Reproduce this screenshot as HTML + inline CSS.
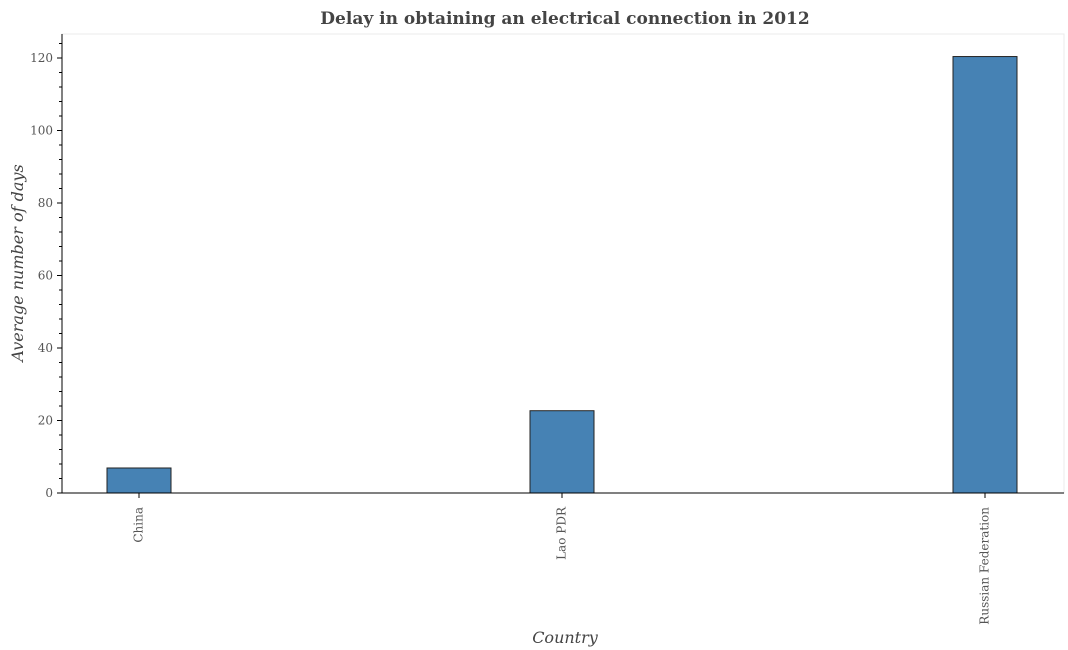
<!DOCTYPE html>
<html><head><meta charset="utf-8"><style>body{margin:0;background:#fff}svg{display:block;font-family:"DejaVu Serif","Liberation Serif",serif}</style></head>
<body>
<svg id="c" width="1068" height="650"></svg>
<script>
const categories=["China","Lao PDR","Russian Federation"];
const values=[6.9,22.7,120.4];
const tickLabels=[0,20,40,60,80,100,120];
const svg=document.getElementById('c');const NS='http://www.w3.org/2000/svg';
function mk(t,a,p){const e=document.createElementNS(NS,t);for(const k in a)e.setAttribute(k,a[k]);(p||svg).appendChild(e);return e;}
const x0=62,x1=1064,yTop=34,y0=493;
const ys=v=>y0-v*(y0-58)/120;
const xc=i=>139+i*((985-139)/(categories.length-1));
let r=mk('rect',{x:x0,y:yTop,width:x1-x0,height:y0-yTop,fill:'#fff',stroke:'#ebebeb'});

let t=mk('text',{x:565,y:24,'text-anchor':'middle','font-size':17,'font-weight':'bold',fill:'#444'});t.textContent='Delay in obtaining an electrical connection in 2012';

categories.forEach((c,i)=>{
 let b=mk('rect',{x:xc(i)-32,y:ys(values[i]),width:64,height:y0-ys(values[i]),fill:'#4682b4',stroke:'#222','stroke-width':1});
 
 mk('line',{x1:xc(i),x2:xc(i),y1:y0,y2:y0+5,stroke:'#000'});
 let l=mk('text',{x:xc(i),y:y0+14,'font-size':12,fill:'#555',transform:`rotate(-90 ${xc(i)} ${y0+14})`,'text-anchor':'end','dominant-baseline':'middle'});l.textContent=c;
 
});
mk('line',{x1:x0,x2:x0,y1:yTop,y2:y0,stroke:'#000'});
mk('line',{x1:x0,x2:x1,y1:y0,y2:y0,stroke:'#000'});
for(let v=0;v<=124;v+=4){const y=ys(v);const maj=v%20===0;mk('line',{x1:x0-(maj?5:3),x2:x0,y1:y,y2:y,stroke:'#000'});}
tickLabels.forEach(v=>{let l=mk('text',{x:x0-9,y:ys(v)+4,'text-anchor':'end','font-size':12,fill:'#555'});l.textContent=v;
 });
let xt=mk('text',{x:565,y:643,'text-anchor':'middle','font-size':16,'font-style':'italic',fill:'#444'});xt.textContent='Country';

let yt=mk('text',{x:23,y:263,'text-anchor':'middle','font-size':16,'font-style':'italic',fill:'#444',transform:'rotate(-90 23 263)'});yt.textContent='Average number of days';

</script>
</body></html>
